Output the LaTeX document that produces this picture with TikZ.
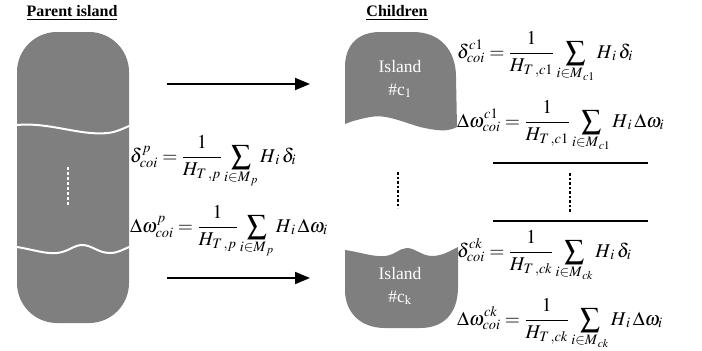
\documentclass[tikz,border=0pt]{standalone}
\usepackage{mathptmx}
\usepackage{amsmath}
\usepackage{fontspec}
\setmainfont{Liberation Serif}
\usetikzlibrary{arrows.meta, positioning}
\definecolor{islefill}{RGB}{127,127,127}

\begin{document}
\begin{tikzpicture}[x=1pt, y=-1pt,
    isle/.style={fill=islefill, draw=none},
    wave/.style={draw=white, line width=2pt},
    lbl/.style={text=white, font=\fontsize{17.5}{23}\selectfont, align=center},
    head/.style={font=\bfseries\fontsize{16}{18}\selectfont},
    eqn/.style={anchor=base west, inner sep=0pt, font=\fontsize{19.5}{22}\selectfont},
    flow/.style={line width=1.8pt, -{Triangle[length=15pt, width=12pt]}},
    sep/.style={line width=1.6pt},
    vdots/.style={line width=2.5pt, dash pattern=on 2.5pt off 2pt},
  ]
  \useasboundingbox (0,0) rectangle (702,351);

  % parent island
  \fill[isle, rounded corners=40pt] (17,32) rectangle (129,323);
  \draw[wave] (17,125) .. controls (50,122) and (80,136) .. (108,133)
    .. controls (117,132) and (124,128) .. (129,126);
  \draw[wave] (17,247) .. controls (35,250) and (45,254) .. (57,253)
    .. controls (68,252) and (74,245) .. (82,245)
    .. controls (92,245) and (98,253) .. (110,253)
    .. controls (118,253) and (124,249) .. (129,247);
  \draw[draw=white, line width=2pt, dash pattern=on 3pt off 2pt] (68,167) -- (68,205);
  \node[head] (ptitle) at (72,13) {\underline{Parent island}};

  % children
  \fill[isle] (345,124) -- (345,67) .. controls (345,45) and (358,32) .. (380,32)
    -- (413,32) .. controls (440,32) and (456,50) .. (456,77)
    -- (457,127) .. controls (447,132) and (438,131) .. (420,127)
    .. controls (400,121) and (385,114) .. (370,117)
    .. controls (360,119) and (352,121) .. (345,124) -- cycle;
  \fill[isle] (345,250) .. controls (360,252) and (372,257) .. (385,256)
    .. controls (395,255) and (400,248) .. (407,248)
    .. controls (415,248) and (422,256) .. (432,256)
    .. controls (442,256) and (450,251) .. (458,247)
    -- (458,287) .. controls (458,312) and (445,328) .. (420,328)
    -- (385,328) .. controls (360,328) and (345,312) .. (345,290) -- cycle;
  \node[lbl] (isle1) at (400,79) {Island\\\#c$_\mathrm{1}$};
  \node[lbl] (islek) at (400,286) {Island\\\#c$_\mathrm{k}$};
  \node[head] (ctitle) at (397,13) {\underline{Children}};
  \draw[vdots] (398,172) -- (398,208);

  % arrows
  \coordinate (pa1) at (167,84);
  \coordinate (ca1) at (310,84);
  \coordinate (pak) at (167,278);
  \coordinate (cak) at (310,278);
  \draw[flow] (pa1) -- (ca1);
  \draw[flow] (pak) -- (cak);

  % equations
  \node[eqn] (pd) at (130,162) {$\displaystyle\delta^{p}_{coi} = \frac{1}{H_{T\,,p}} \sum_{i\in M_{\,p}} H_{\,i}\,\delta_i$};
  \node[eqn] (pw) at (130,232) {$\displaystyle\Delta\omega^{p}_{coi} = \frac{1}{H_{T\,,p}} \sum_{i\in M_{\,p}} H_{\,i}\,\Delta\omega_i$};
  \node[eqn] (cd1) at (457,58) {$\displaystyle\delta^{c1}_{coi} = \frac{1}{H_{T\,,c1}} \sum_{i\in M_{\,c1}} H_{\,i}\,\delta_i$};
  \node[eqn] (cw1) at (457,127) {$\displaystyle\Delta\omega^{c1}_{coi} = \frac{1}{H_{T\,,c1}} \sum_{i\in M_{\,c1}} H_{\,i}\,\Delta\omega_i$};
  \node[eqn] (cdk) at (457,257) {$\displaystyle\delta^{ck}_{coi} = \frac{1}{H_{T\,,ck}} \sum_{i\in M_{\,ck}} H_{\,i}\,\delta_i$};
  \node[eqn] (cwk) at (457,325) {$\displaystyle\Delta\omega^{ck}_{coi} = \frac{1}{H_{T\,,ck}} \sum_{i\in M_{\,ck}} H_{\,i}\,\Delta\omega_i$};

  % separators
  \coordinate (s1a) at (493,163);
  \coordinate (s1b) at (648,163);
  \coordinate (s2a) at (493,221);
  \coordinate (s2b) at (648,221);
  \draw[sep] (s1a) -- (s1b);
  \draw[sep] (s2a) -- (s2b);
  \draw[vdots] (570,173) -- (570,213);
\end{tikzpicture}
\end{document}
